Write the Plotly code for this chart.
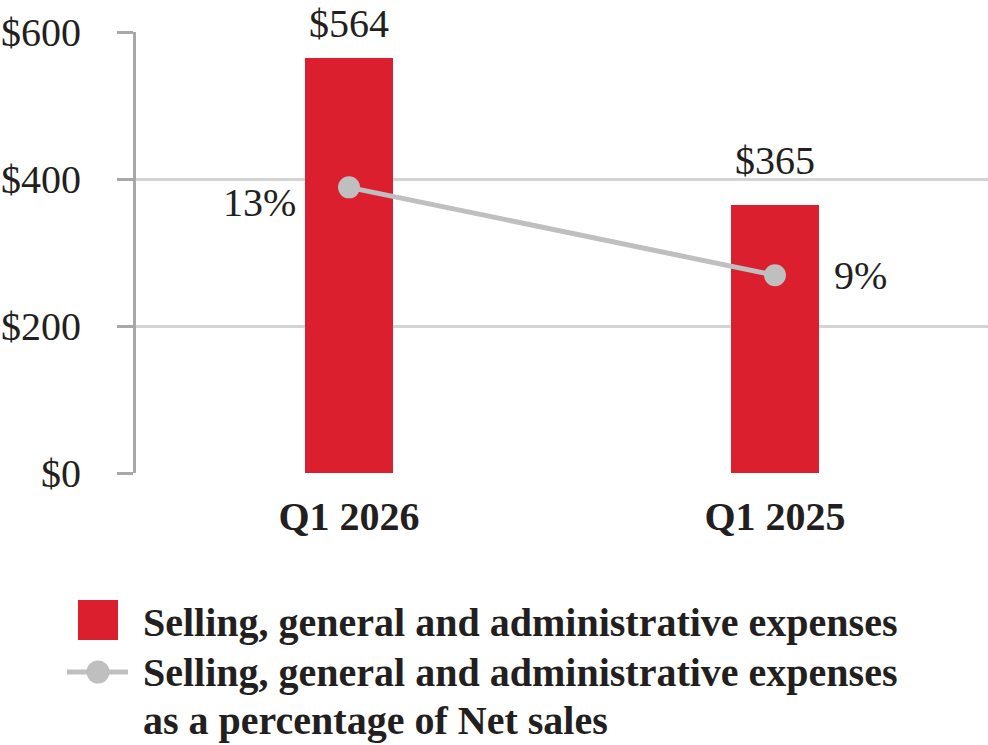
import plotly.graph_objects as go

# ---- data ----
categories = ["Q1 2026", "Q1 2025"]
sga_expenses = [564, 365]            # $ millions
sga_pct_net_sales = [13, 9]          # %
bar_labels = ["$564", "$365"]
pct_labels = ["13%", "9%"]
y_ticks = [0, 200, 400, 600]
y_tick_labels = ["$0", "$200", "$400", "$600"]
legend_names = ["Selling, general and administrative expenses",
                "Selling, general and administrative expenses",
                "as a percentage of Net sales"]

# ---- style ----
W, H = 988, 745
L, R, T, B = 136, 0, 32, 272
RED = "#dc1f2e"
GREY = "#bfbfbf"
GRID = "#d4d4d4"
AXIS = "#a8a8a8"
TXT = "#231f20"
FONT = "Liberation Serif"


def px(x):
    return (x - L) / (W - L - R)


def py(y):
    return (H - B - y) / (H - B - T)


fig = go.Figure()
fig.add_trace(go.Bar(x=categories, y=sga_expenses, width=0.206,
                     marker=dict(color=RED, line=dict(width=0)),
                     showlegend=False, hoverinfo="skip"))
fig.add_trace(go.Scatter(x=categories, y=sga_pct_net_sales, yaxis="y2",
                         mode="lines+markers",
                         line=dict(color=GREY, width=5),
                         marker=dict(color=GREY, size=22),
                         showlegend=False, hoverinfo="skip"))

annotations = []
bar_label_shift = [10, 20]
for c, v, t, s in zip(categories, sga_expenses, bar_labels, bar_label_shift):
    annotations.append(dict(x=c, y=v, xref="x", yref="y", text=t, showarrow=False,
                            yanchor="bottom", xanchor="center", yshift=s,
                            font=dict(family=FONT, size=40, color=TXT)))
pct_pos = [dict(xanchor="right", xshift=-51, yshift=-15),
           dict(xanchor="left", xshift=57, yshift=0)]
for c, v, t, p in zip(categories, sga_pct_net_sales, pct_labels, pct_pos):
    annotations.append(dict(x=c, y=v, xref="x", yref="y2", text=t, showarrow=False,
                            yanchor="middle", font=dict(family=FONT, size=40, color=TXT), **p))

# legend text
for name, yc in zip(legend_names, [622, 672, 720]):
    annotations.append(dict(x=px(141), y=py(yc), xref="paper", yref="paper", text=name,
                            showarrow=False, xanchor="left", yanchor="middle",
                            font=dict(family=FONT, size=40, color=TXT, weight="bold")))

shapes = [
    dict(type="rect", xref="paper", yref="paper", x0=px(78), x1=px(118),
         y0=py(640), y1=py(600), fillcolor=RED, line=dict(width=0)),
    dict(type="line", xref="paper", yref="paper", x0=px(67), x1=px(128),
         y0=py(672), y1=py(672), line=dict(color=GREY, width=5)),
    dict(type="circle", xref="paper", yref="paper", x0=px(86.5), x1=px(109.5),
         y0=py(683.5), y1=py(660.5), fillcolor=GREY, line=dict(width=0)),
]

fig.update_layout(
    width=W, height=H,
    margin=dict(l=L, r=R, t=T, b=B),
    paper_bgcolor="white", plot_bgcolor="white",
    font=dict(family=FONT, size=40, color=TXT),
    xaxis=dict(type="category", range=[-0.5, 1.5], showgrid=False, showline=False,
               zeroline=False, ticks="", ticklabelstandoff=16,
               tickfont=dict(family=FONT, size=40, color=TXT, weight="bold")),
    yaxis=dict(range=[0, 600], tickvals=y_ticks, ticktext=y_tick_labels,
               showgrid=True, gridcolor=GRID, gridwidth=3, zeroline=False,
               showline=True, linecolor=AXIS, linewidth=3,
               ticks="outside", ticklen=16, tickwidth=3, tickcolor=AXIS,
               ticklabelstandoff=28,
               tickfont=dict(family=FONT, size=40, color=TXT)),
    yaxis2=dict(overlaying="y", range=[0, 20.07], visible=False),
    annotations=annotations,
    shapes=shapes,
    bargap=0,
)

fig.write_html("out.html")
